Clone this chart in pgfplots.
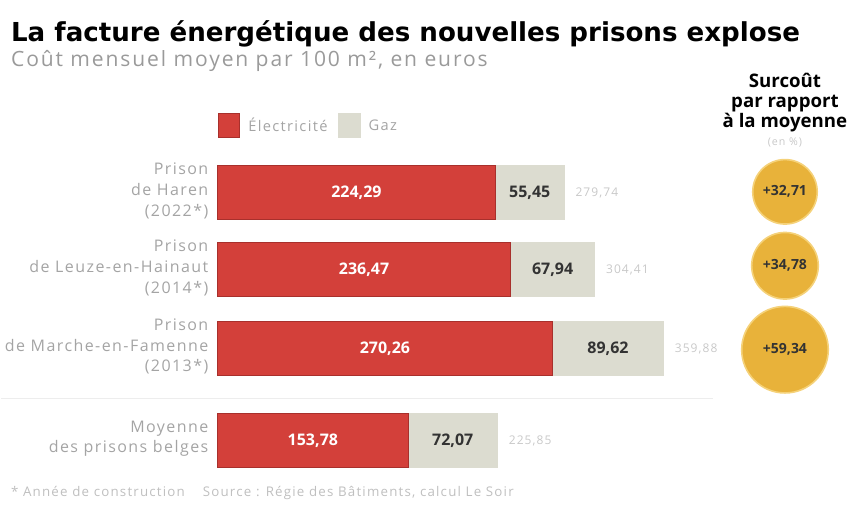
\documentclass[border=0pt]{standalone}
\usepackage{pgfplots}
\pgfplotsset{compat=1.18}
\usepackage{fontspec}
\setmainfont{Open Sans}
\newfontfamily\lt[LetterSpace=9]{Open Sans}
\newfontfamily\titlefont{DejaVu Sans}
\definecolor{elec}{HTML}{D3403A}
\definecolor{elecd}{HTML}{A8302C}
\definecolor{gaz}{HTML}{DCDCD0}
\definecolor{gold}{HTML}{E8B23A}
\definecolor{goldl}{HTML}{F5D27A}
\definecolor{lab}{HTML}{A4A4A4}
\definecolor{sub}{HTML}{9A9A9A}
\tikzset{
  llab/.style={anchor=east, align=right, text=lab, font=\lt\fontsize{12}{15.5}\selectfont, inner sep=0},
  wval/.style={font=\fontsize{12}{14}\selectfont\bfseries, inner sep=0, text=white},
  dval/.style={font=\fontsize{12}{14}\selectfont\bfseries, inner sep=0, text=black!80},
  tot/.style={anchor=west, text=lab!60, font=\lt\fontsize{9}{11}\selectfont, inner sep=0},
  cval/.style={font=\fontsize{10.5}{12}\selectfont\bfseries, text=black!80, inner sep=0}}
\pgfplotsset{base/.style={
  scale only axis, width=638.25pt, height=383.25pt,
  xmin=-175, xmax=511.3, ymin=0, ymax=511, y dir=reverse,
  axis lines=none, clip=false, xtick=\empty, ytick=\empty}}
\begin{document}
\begin{tikzpicture}
\begin{axis}[base, name=ax, xbar stacked, bar width=54,
  legend style={at={(axis cs:0,126)}, anchor=west, draw=none, fill=none, inner sep=0pt,
    legend columns=2, text=lab, font=\lt\fontsize{11}{13}\selectfont,
    /tikz/every even column/.append style={column sep=2pt},
    nodes={inner xsep=6pt}},
  legend image code/.code={\draw[#1] (0pt,-9pt) rectangle (16pt,9pt);}]
\addplot[fill=elec, draw=elecd, line width=0.9pt] coordinates {(224.29,193) (236.47,270) (270.26,349) (153.78,441)};
\addlegendentry{Électricité}
\addplot[fill=gaz, draw=gaz, line width=0.9pt] coordinates {(55.45,193) (67.94,270) (89.62,349) (72.07,441)};
\addlegendentry{Gaz}
\node[anchor=base west, inner sep=0] at (axis cs:-166.9,42) {\titlefont\fontsize{19.6}{22}\selectfont\bfseries La facture énergétique des nouvelles prisons explose};
\node[anchor=base west, inner sep=0, text=sub] at (axis cs:-166.9,67) {\lt\fontsize{15.8}{17}\selectfont Coût mensuel moyen par 100 m², en euros};
\node[llab] at (axis cs:-7.3,191) {Prison\\de Haren\\(2022*)};
\node[llab] at (axis cs:-7.3,268) {Prison\\de Leuze-en-Hainaut\\(2014*)};
\node[llab] at (axis cs:-7.3,347) {Prison\\de Marche-en-Famenne\\(2013*)};
\node[llab] at (axis cs:-7.3,439) {Moyenne\\des prisons belges};
\node[tot] at (axis cs:288.7,193) {279,74};
\node[tot] at (axis cs:313.4,270) {304,41};
\node[tot] at (axis cs:368.9,349) {359,88};
\node[tot] at (axis cs:234.9,441) {225,85};
\draw[black!7, line width=1.2pt] (axis cs:-175,399) -- (axis cs:400,399);
\node[align=center, font=\fontsize{14}{15}\selectfont\bfseries, inner sep=0] at (axis cs:458,103) {Surcoût\\par rapport\\à la moyenne};
\node[text=lab!60, font=\lt\fontsize{8}{10}\selectfont, inner sep=0] at (axis cs:458,143) {(en \%)};
\node[anchor=base west, text=lab!70, font=\lt\fontsize{10}{11}\selectfont, inner sep=0] at (axis cs:-166.9,497) {* Année de construction \quad Source : Régie des Bâtiments, calcul Le Soir};
\end{axis}
\begin{axis}[base]
\addplot[only marks, mark=*, mark size=24.2pt, mark options={fill=gold, draw=goldl, line width=1.2pt}] coordinates {(458,192)};
\addplot[only marks, mark=*, mark size=25pt, mark options={fill=gold, draw=goldl, line width=1.2pt}] coordinates {(458,266)};
\addplot[only marks, mark=*, mark size=32.5pt, mark options={fill=gold, draw=goldl, line width=1.2pt}] coordinates {(458,350)};
\end{axis}
\begin{axis}[base]
\node[wval] at (axis cs:112.1,193) {224,29};
\node[wval] at (axis cs:118.2,270) {236,47};
\node[wval] at (axis cs:135.1,349) {270,26};
\node[wval] at (axis cs:76.9,441) {153,78};
\node[dval] at (axis cs:252.0,193) {55,45};
\node[dval] at (axis cs:270.4,270) {67,94};
\node[dval] at (axis cs:315.1,349) {89,62};
\node[dval] at (axis cs:189.8,441) {72,07};
\node[cval] at (axis cs:458,192) {+32,71};
\node[cval] at (axis cs:458,266) {+34,78};
\node[cval] at (axis cs:458,350) {+59,34};
\end{axis}
\path (ax.south west) rectangle (ax.north east);
\end{tikzpicture}
\end{document}
